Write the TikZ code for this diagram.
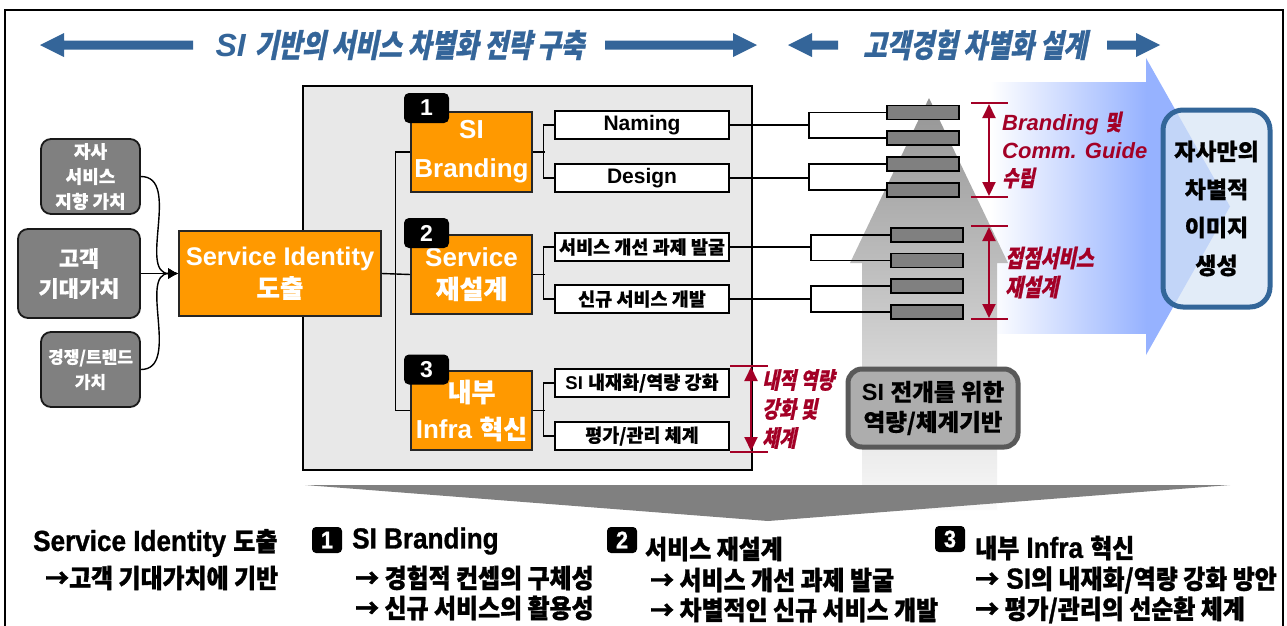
\documentclass[tikz,border=0pt]{standalone}
\usepackage{fontspec}
\usetikzlibrary{arrows.meta}
\setmainfont{Liberation Sans}
\newfontfamily\krf{Noto Sans CJK KR}[BoldFeatures={FakeBold=0.5}]
\newfontfamily\krit{Noto Sans CJK KR}[FakeSlant=0.2,FakeStretch=0.8,BoldFeatures={FakeBold=0.8}]
\newfontfamily\krn{Noto Sans CJK KR}[FakeStretch=0.92,BoldFeatures={FakeBold=1.2}]
\newfontfamily\latn{Liberation Sans}[FakeStretch=0.9,BoldFeatures={FakeBold=1}]
\newcommand\K[1]{{\krf #1}}
\newcommand\KI[1]{{\upshape\krit #1}}
\newcommand\BK[1]{{\krn\fontsize{26}{30}\selectfont #1}}
\definecolor{tblue}{RGB}{52,101,153}
\definecolor{orng}{RGB}{255,153,0}
\definecolor{gbox}{RGB}{128,128,128}
\definecolor{panelc}{RGB}{232,232,232}
\definecolor{crim}{RGB}{163,0,38}
\definecolor{blueA}{RGB}{150,178,255}
\definecolor{lbox}{RGB}{214,228,246}
\definecolor{frameblue}{RGB}{51,102,153}
\begin{document}
\begin{tikzpicture}[x=1pt,y=-1pt,
 graybox/.style={draw=black!90,line width=1.8pt,fill=gbox,rounded corners=10pt,text=white,align=center,inner sep=0pt,font=\krf\bfseries\fontsize{18}{25}\selectfont},
 orbox/.style={draw=black!85,line width=1.6pt,fill=orng,text=white,align=center,inner sep=0pt,minimum width=121pt,minimum height=80pt},
 badge/.style={fill=black,rounded corners=5pt,text=white,font=\bfseries\fontsize{23}{23}\selectfont,minimum width=45pt,minimum height=30pt,inner sep=0pt},
 wbox/.style={draw=black,line width=1.6pt,fill=white,minimum width=174pt,minimum height=28pt,inner sep=0pt,font=\bfseries\fontsize{21}{21}\selectfont},
 grect/.style={draw=black,line width=1.6pt,fill=gbox,minimum width=72pt,minimum height=14pt,inner sep=0pt},
 conn/.style={line width=1.4pt},
 redlab/.style={text=crim,anchor=west,align=left,inner sep=0pt,font=\bfseries\itshape\fontsize{22}{28}\selectfont},
 dimline/.style={crim,line width=2pt},
 dimarr/.style={crim,line width=2pt,{Triangle[length=14pt,width=13pt]}-{Triangle[length=14pt,width=13pt]}},
 btxt/.style={anchor=west,inner sep=0pt,font=\bfseries\latn\fontsize{29}{30}\selectfont},
 sbadge/.style={fill=black,rounded corners=4pt,text=white,minimum width=30pt,minimum height=26pt,inner sep=0pt,font=\bfseries\latn\fontsize{24}{24}\selectfont},
 ttl/.style={text=tblue,inner sep=0pt,font=\bfseries\itshape\fontsize{32}{32}\selectfont}
]
\useasboundingbox (0,0) rectangle (1287,625);
\fill[white] (0,0) rectangle (1287,625);
% frame
\draw[line width=2pt] (5,626) -- (5,10) -- (1283,10) -- (1283,626);

% title arrows
\fill[tblue] (40,45) -- (64,33) -- (64,40.5) -- (193,40.5) -- (193,49.5) -- (64,49.5) -- (64,57) -- cycle;
\fill[tblue] (757,45) -- (733,33) -- (733,40.5) -- (605,40.5) -- (605,49.5) -- (733,49.5) -- (733,57) -- cycle;
\fill[tblue] (788,45) -- (812,33) -- (812,40.5) -- (838,40.5) -- (838,49.5) -- (812,49.5) -- (812,57) -- cycle;
\fill[tblue] (1160,45) -- (1136,33) -- (1136,40.5) -- (1107,40.5) -- (1107,49.5) -- (1136,49.5) -- (1136,57) -- cycle;
\node[ttl] (t1) at (400,45) {SI \KI{기반의 서비스 차별화 전략 구축}};
\node[ttl] (t2) at (975,45) {\KI{고객경험 차별화 설계}};

% big blue arrow
\shade[left color=white,right color=blueA] (990,82) rectangle (1147,333);
\fill[blueA] (1146,58) -- (1230,206.5) -- (1146,355) -- cycle;

% gray up arrow
\shade[top color=black!42,bottom color=black!2] (929,98) -- (1008,263) -- (997,263) -- (997,510) -- (862,510) -- (862,263) -- (850,263) -- cycle;

% panel
\draw[line width=1.5pt,fill=panelc] (303,86) rectangle (752,470);

% funnel
\fill[gbox] (305,485) -- (1230,485) -- (768,521) -- cycle;

% left gray boxes
\node[graybox,minimum width=99pt,minimum height=75pt] (g1) at (90.5,176.5) {자사\\서비스\\지향 가치};
\node[graybox,minimum width=122pt,minimum height=89pt,font=\krf\bfseries\fontsize{22}{30}\selectfont] (g2) at (79,273.5) {고객\\기대가치};
\node[graybox,minimum width=99pt,minimum height=75pt,font=\krf\bfseries\fontsize{17}{25}\selectfont] (g3) at (90.5,369.5) {경쟁/트렌드\\가치};

% service identity
\node[orbox,minimum width=202pt,minimum height=85pt,font=\bfseries\fontsize{25.5}{32}\selectfont] (si) at (280,273.5) {Service Identity\\\K{도출}};

\draw[conn,-{Latex[length=10pt,width=11pt]}] (g1.east) to[out=0,in=180] (si.west);
\draw[conn,-{Latex[length=10pt,width=11pt]}] (g2.east) -- (si.west);
\draw[conn,-{Latex[length=10pt,width=11pt]}] (g3.east) to[out=0,in=180] (si.west);

% orange boxes
\node[orbox,font=\bfseries\fontsize{26}{39}\selectfont] (o1) at (471.5,152) {SI\\Branding};
\node[orbox,minimum height=79pt,font=\bfseries\fontsize{26}{32}\selectfont] (o2) at (471.5,274.5) {Service\\\K{재설계}};
\node[orbox,minimum height=79pt,font=\bfseries\fontsize{26}{37}\selectfont] (o3) at (471.5,410.5) {\K{내부}\\Infra \K{혁신}};
\node[badge] (b1) at (426.5,108) {1};
\node[badge] (b2) at (426.5,233) {2};
\node[badge] (b3) at (426.5,369.5) {3};

\draw[conn] (si.east) -- (o2.west);
\draw[conn] (o1.west) -- ++(-15,0) |- (o3.west);

% white boxes
\node[wbox] (w1) at (642,125) {Naming};
\node[wbox] (w2) at (642,178) {Design};
\node[wbox,font=\krf\bfseries\fontsize{18.5}{18.5}\selectfont] (w3) at (642,247) {서비스 개선 과제 발굴};
\node[wbox,font=\krf\bfseries\fontsize{18.5}{18.5}\selectfont] (w4) at (642,299) {신규 서비스 개발};
\node[wbox,font=\bfseries\fontsize{18.5}{18.5}\selectfont] (w5) at (642,383) {SI \K{내재화/역량 강화}};
\node[wbox,font=\krf\bfseries\fontsize{18.5}{18.5}\selectfont] (w6) at (642,436) {평가/관리 체계};

\draw[conn] (o1.east) -- ++(12,0);
\draw[conn] (w1.west) -- ++(-11,0) |- (w2.west);
\draw[conn] (o2.east) -- ++(12,0);
\draw[conn] (w3.west) -- ++(-11,0) |- (w4.west);
\draw[conn] (o3.east) -- ++(12,0);
\draw[conn] (w5.west) -- ++(-11,0) |- (w6.west);

% gray rects
\node[grect] (r1) at (923,112.5) {};
\node[grect] (r2) at (923,138) {};
\node[grect] (r3) at (923,164) {};
\node[grect] (r4) at (923,190) {};
\node[grect] (r5) at (927,235) {};
\node[grect] (r6) at (927,260.5) {};
\node[grect] (r7) at (927,286) {};
\node[grect] (r8) at (927,312) {};

\draw[conn] (w1.east) -- ++(79,0) coordinate (f1);
\draw[conn] (r1.west) -| (f1) |- (r2.west);
\draw[conn] (w2.east) -- ++(79,0) coordinate (f2);
\draw[conn] (r3.west) -| (f2) |- (r4.west);
\draw[conn] (w3.east) -- ++(81,0) coordinate (f3);
\draw[conn] (r5.west) -| (f3) |- (r6.west);
\draw[conn] (w4.east) -- ++(81,0) coordinate (f4);
\draw[conn] (r7.west) -| (f4) |- (r8.west);

% red dimension marks
\draw[dimline] (971,103) -- (1008,103);
\draw[dimline] (971,197) -- (1008,197);
\draw[dimarr] (989,104) -- (989,196);
\draw[dimline] (971,226) -- (1008,226);
\draw[dimline] (971,319) -- (1008,319);
\draw[dimarr] (989,227) -- (989,318);
\draw[dimline] (730,366) -- (768,366);
\draw[dimline] (730,452) -- (768,452);
\draw[dimarr] (751,367) -- (751,451);

\node[redlab] (l1) at (1002,150) {Branding \KI{및}\\Comm. Guide\\\KI{수립}};
\node[redlab,font=\bfseries\fontsize{24}{29}\selectfont] (l2) at (1005,272.5) {\KI{접점서비스}\\\KI{재설계}};
\node[redlab,font=\bfseries\fontsize{23}{29}\selectfont] (l3) at (762,409) {\KI{내적 역량}\\\KI{강화 및}\\\KI{체계}};

% SI base box
\node[draw=black!65,line width=5pt,fill=black!32,rounded corners=14pt,minimum width=170pt,minimum height=78pt,align=center,inner sep=0pt,font=\bfseries\fontsize{23.5}{30}\selectfont] (sib) at (933,408) {SI \K{전개를 위한}\\\K{역량/체계기반}};

% image box
\node[draw=frameblue,line width=5pt,fill=lbox,fill opacity=0.7,text opacity=1,rounded corners=20pt,minimum width=107pt,minimum height=197pt,align=center,inner sep=0pt,font=\krf\bfseries\fontsize{23}{38}\selectfont] (img) at (1216.5,208.5) {자사만의\\차별적\\이미지\\생성};

% bottom texts
\node[btxt] (bt1) at (33,543) {Service Identity \BK{도출}};
\node[btxt] (bt2) at (45,578) {\BK{→고객 기대가치에 기반}};
\node[sbadge] (sb1) at (327,540) {1};
\node[btxt] (bt3) at (352,541) {SI Branding};
\node[btxt] (bt4) at (355,578) {\BK{→ 경험적 컨셉의 구체성}};
\node[btxt] (bt5) at (355,608) {\BK{→ 신규 서비스의 활용성}};
\node[sbadge] (sb2) at (622,540) {2};
\node[btxt] (bt6) at (645,549) {\BK{서비스 재설계}};
\node[btxt] (bt7) at (650,580) {\BK{→ 서비스 개선 과제 발굴}};
\node[btxt] (bt8) at (650,610) {\BK{→ 차별적인 신규 서비스 개발}};
\node[sbadge] (sb3) at (950,539) {3};
\node[btxt] (bt9) at (975,548) {\BK{내부} Infra \BK{혁신}};
\node[btxt] (bt10) at (975,580) {\BK{→} SI\BK{의 내재화/역량 강화 방안}};
\node[btxt] (bt11) at (975,610) {\BK{→ 평가/관리의 선순환 체계}};
\end{tikzpicture}
\end{document}
